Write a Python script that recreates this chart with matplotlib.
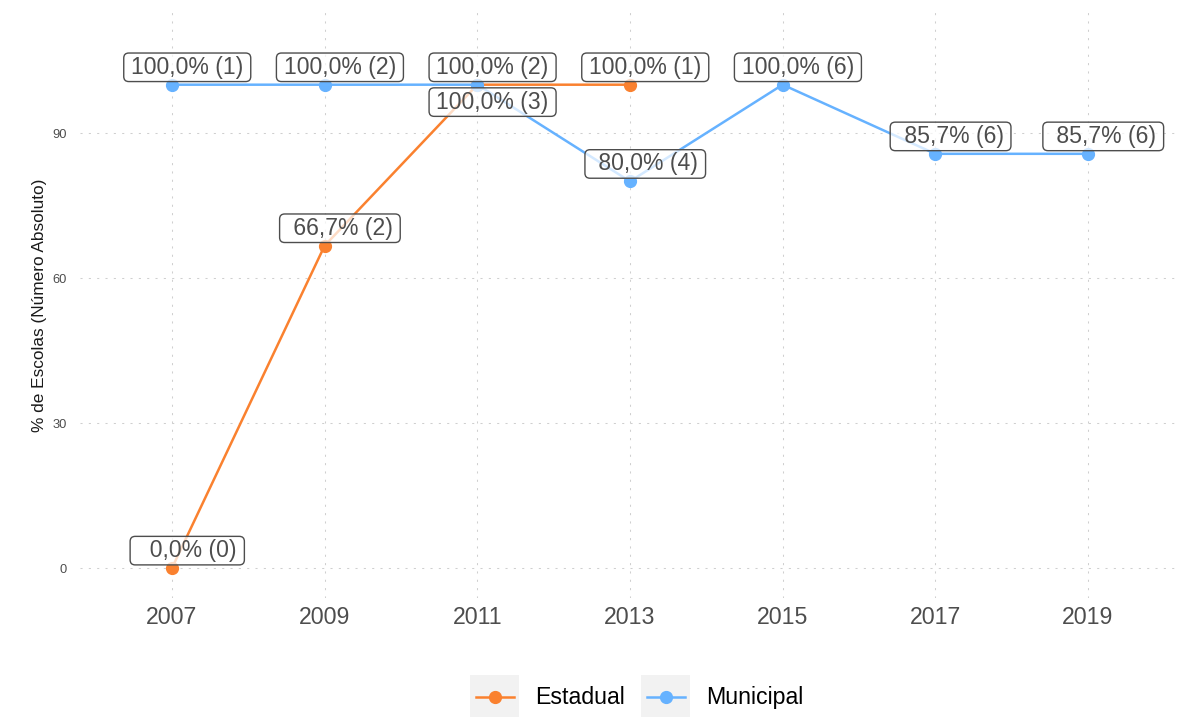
import matplotlib
matplotlib.use("Agg")
import matplotlib.pyplot as plt
from matplotlib.patches import BoxStyle, Rectangle
from matplotlib.lines import Line2D
from matplotlib.legend_handler import HandlerBase

plt.rcParams['font.family'] = ['Liberation Sans', 'DejaVu Sans']

# Data
years = [2007, 2009, 2011, 2013, 2015, 2017, 2019]
estadual_years = [2007, 2009, 2011, 2013]
estadual_pct = [0.0, 66.7, 100.0, 100.0]
estadual_n = [0, 2, 3, 1]
municipal_years = [2007, 2009, 2011, 2013, 2015, 2017, 2019]
municipal_pct = [100.0, 100.0, 100.0, 80.0, 100.0, 85.7, 85.7]
municipal_n = [1, 2, 2, 4, 6, 6, 6]
y_ticks = [0, 30, 60, 90]
series_names = ["Estadual", "Municipal"]

# Label placement (side of the point: +1 above, -1 below)
estadual_side = [1, 1, -1, 1]
municipal_side = [1, 1, 1, 1, 1, 1, 1]

ORANGE = "#FA812F"
BLUE = "#66B2FF"
GRAY_TXT = "#4D4D4D"
GRID = "#CFCFCF"


class PadRound(BoxStyle.Round):
    """Rounded box with separate horizontal / vertical padding."""

    def __init__(self, xpad=0.3, ypad=0.07, rounding_size=0.22):
        super().__init__(pad=0.0, rounding_size=rounding_size)
        self.xpad = xpad
        self.ypad = ypad

    def __call__(self, x0, y0, width, height, mutation_size):
        dx = self.xpad * mutation_size
        dy = self.ypad * mutation_size
        return super().__call__(x0 - dx, y0 - dy, width + 2 * dx,
                                height + 2 * dy, mutation_size)


class KeyHandler(HandlerBase):
    def create_artists(self, legend, orig, xd, yd, w, h, fs, trans):
        bg = Rectangle((-xd, -yd), w, h, facecolor="#F2F2F2",
                       edgecolor="none", transform=trans)
        yc = -yd + h / 2
        ln = Line2D([-xd + 0.11 * w, -xd + 0.89 * w], [yc, yc],
                    color=orig.get_color(), lw=orig.get_linewidth(),
                    transform=trans)
        mk = Line2D([-xd + w / 2], [yc], marker="o", linestyle="none",
                    color=orig.get_color(), markersize=orig.get_markersize(),
                    transform=trans)
        return [bg, ln, mk]


def fmt_label(pct, n):
    return f"{pct:5.1f}".replace(".", ",") + f"% ({n})"


fig = plt.figure(figsize=(11.89, 7.17), dpi=100)
ax = fig.add_axes([80 / 1189, (717 - 598) / 717,
                   (1175 - 80) / 1189, (598 - 12) / 717])

ax.set_xlim(2005.795, 2020.14)
ax.set_ylim(-6.2, 115.04)

for s in ax.spines.values():
    s.set_visible(False)

ax.set_xticks(years)
ax.set_xticklabels([str(y) for y in years])
ax.set_yticks(y_ticks)
ax.tick_params(axis="x", length=0, pad=5.5, labelsize=16.7, labelcolor=GRAY_TXT)
ax.tick_params(axis="y", length=0, pad=9.5, labelsize=9.3, labelcolor=GRAY_TXT)
ax.grid(True, color=GRID, lw=0.75, ls=(0, (2, 6)))
ax.set_axisbelow(True)

ax.set_ylabel("% de Escolas (Número Absoluto)", fontsize=12.4,
              color="#1A1A1A", labelpad=4)

h_est, = ax.plot(estadual_years, estadual_pct, color=ORANGE, lw=1.8,
                 marker="o", markersize=8.5, zorder=2, label=series_names[0])
h_mun, = ax.plot(municipal_years, municipal_pct, color=BLUE, lw=1.8,
                 marker="o", markersize=8.5, zorder=2.1, label=series_names[1])

dx, dy = 0.2, 3.6
box = dict(boxstyle=PadRound(xpad=0.32, ypad=0.12), facecolor=(1, 1, 1, 0.72),
           edgecolor=GRAY_TXT, lw=1.0)


def add_labels(xs, ps, ns, sides):
    for x, p, n, s in zip(xs, ps, ns, sides):
        ax.text(x + dx, p + s * dy, fmt_label(p, n), ha="center", va="center",
                fontsize=16.6, color=GRAY_TXT, bbox=dict(box), zorder=5)


add_labels(estadual_years, estadual_pct, estadual_n, estadual_side)
add_labels(municipal_years, municipal_pct, municipal_n, municipal_side)

fig.legend(handles=[h_est, h_mun], labels=series_names, loc="center",
           bbox_to_anchor=(637 / 1189, (717 - 697) / 717), ncol=2,
           frameon=False, fontsize=16.7, handlelength=2.1, handleheight=2.6,
           handletextpad=0.7, columnspacing=0.7, borderpad=0, borderaxespad=0,
           handler_map={Line2D: KeyHandler()})

fig.savefig("out.png", dpi=100, facecolor="white")
